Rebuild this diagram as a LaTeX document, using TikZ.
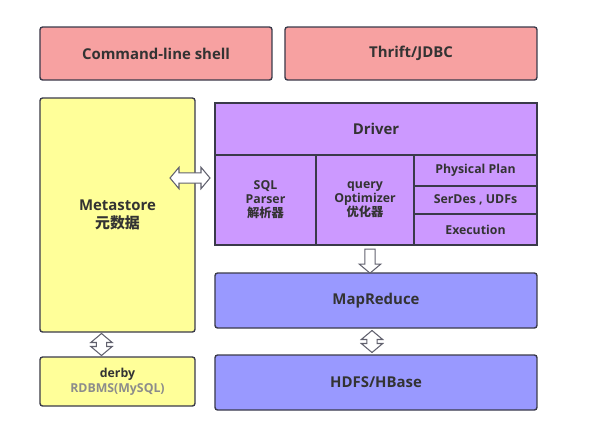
\documentclass[tikz,border=0pt]{standalone}
\usepackage{fontspec}
\setmainfont{Open Sans}
\newfontfamily\cjk{Noto Sans CJK SC}
\definecolor{hvRed}{HTML}{F7A1A1}
\definecolor{hvYellow}{HTML}{FFFF99}
\definecolor{hvPurple}{HTML}{CC99FF}
\definecolor{hvBlue}{HTML}{9999FF}
\definecolor{hvLine}{HTML}{3A3A4A}
\usetikzlibrary{calc,positioning,shapes.arrows}
\begin{document}
\begin{tikzpicture}[x=0.02cm,y=-0.02cm,
  box/.style={draw=hvLine, line width=0.8pt, rounded corners=1.5pt, align=center,
    font=\fontsize{8.5}{10}\selectfont\bfseries, text=black!80, inner sep=0pt},
  cell/.style={draw=hvLine, line width=0.8pt, fill=hvPurple, align=center,
    font=\fontsize{7}{8}\selectfont\bfseries, text=black!80, inner sep=0pt},
  hollow/.style={draw=hvLine!80, fill=white, line width=0.6pt, inner xsep=0pt, inner ysep=2.6pt,
    double arrow head extend=3.2pt, single arrow head extend=3.2pt,
    double arrow tip angle=100, single arrow tip angle=100}
]
  \useasboundingbox (0,0) rectangle (600,424);
  \node[box, fill=hvRed, minimum width=232*0.02cm, minimum height=53*0.02cm] (shell) at (156,53.5) {Command-line shell};
  \node[box, fill=hvRed, minimum width=252*0.02cm, minimum height=53*0.02cm] (thrift) at (411,53.5) {Thrift/JDBC};
  \node[box, fill=hvYellow, minimum width=155*0.02cm, minimum height=234*0.02cm] (meta) at (117.5,215) {Metastore\\{\cjk 元数据}};
  \node[box, fill=hvYellow, minimum width=155*0.02cm, minimum height=49*0.02cm, font=\fontsize{7}{8.5}\selectfont\bfseries] (derby) at (117.5,381.5) {derby\\\textcolor{black!45}{RDBMS(MySQL)}};
  \node[box, fill=hvPurple, rounded corners=0pt, minimum width=322*0.02cm, minimum height=52*0.02cm] (driver) at (376,129) {Driver};
  \node[cell, minimum width=101*0.02cm, minimum height=90*0.02cm] (parser) at (265.5,200) {SQL\\Parser\\{\cjk 解析器}};
  \node[cell, minimum width=98*0.02cm, minimum height=90*0.02cm] (optim) at (365,200) {query\\Optimizer\\{\cjk 优化器}};
  \node[cell, minimum width=123*0.02cm, minimum height=31*0.02cm] (plan) at (475.5,170.5) {Physical Plan};
  \node[cell, minimum width=123*0.02cm, minimum height=28*0.02cm] (serdes) at (475.5,200) {SerDes , UDFs};
  \node[cell, minimum width=123*0.02cm, minimum height=31*0.02cm] (exec) at (475.5,229.5) {Execution};
  \node[box, fill=hvBlue, minimum width=322*0.02cm, minimum height=55*0.02cm] (mapred) at (376,300.5) {MapReduce};
  \node[box, fill=hvBlue, minimum width=322*0.02cm, minimum height=55*0.02cm] (hdfs) at (376,382.5) {HDFS/HBase};

  % hollow arrows between the layers
  \node[hollow, double arrow, minimum height=40*0.02cm] (a1) at (190,178) {};
  \node[hollow, single arrow, rotate=-90, minimum height=24*0.02cm] (a2) at ($(optim.south)!0.5!(optim.south |- mapred.north)+(5,0)$) {};
  \node[hollow, double arrow, rotate=90, minimum height=22*0.02cm] (a3) at ($(mapred.south)!0.5!(hdfs.north)+(-4,0)$) {};
  \node[hollow, double arrow, rotate=90, minimum height=22*0.02cm] (a4) at ($(meta.south)!0.5!(derby.north)+(-16,0)$) {};
\end{tikzpicture}
\end{document}
